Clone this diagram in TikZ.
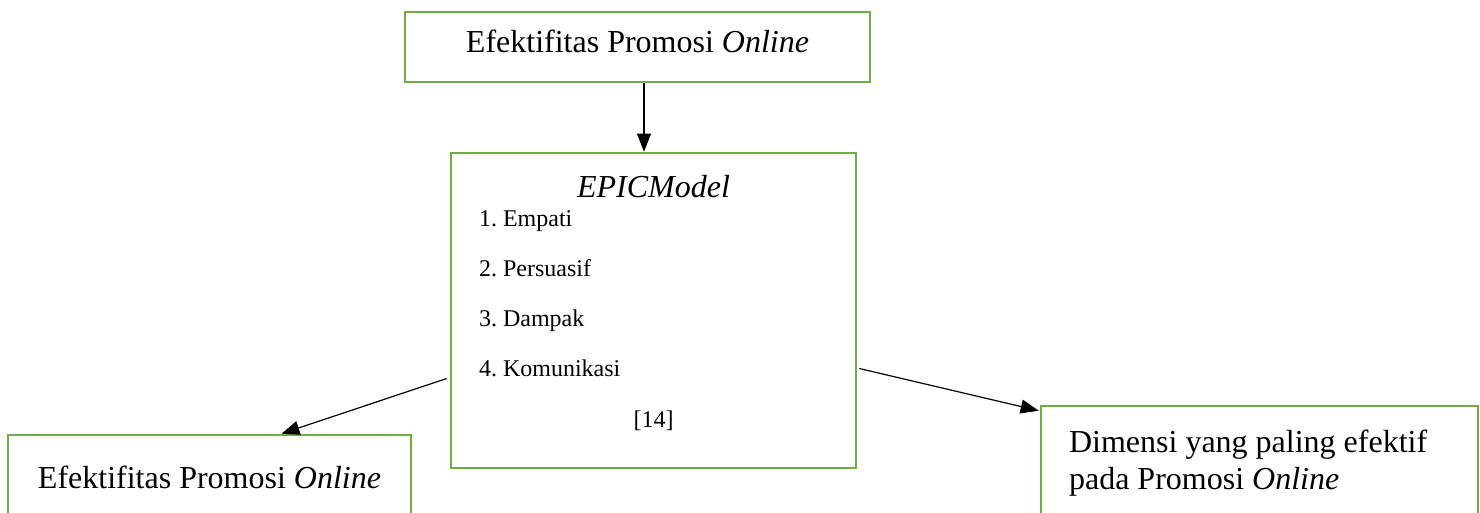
\documentclass[tikz,border=0pt]{standalone}
\usepackage{fontspec}
\setmainfont{Liberation Serif}
\usetikzlibrary{arrows.meta}
\definecolor{boxgreen}{HTML}{70AD47}
\frenchspacing

\begin{document}
\begin{tikzpicture}[x=0.5pt, y=-0.5pt,
        box/.style={draw=boxgreen, line width=1.3pt, inner sep=0pt},
        big/.style={font=\fontsize{16}{19}\selectfont},
        small/.style={font=\fontsize{12}{14}\selectfont},
        link/.style={->, line width=0.6pt},
        >={Triangle[length=9pt, width=7pt]}]
        \useasboundingbox (0,0) rectangle (1480,513);

        % the four boxes
        \node[box, minimum width=232.5pt, minimum height=35pt] (promo) at (637.5, 47) {};
        \node[box, minimum width=202.5pt, minimum height=157.5pt] (epic) at (653.5, 310.5) {};
        \node[box, minimum width=201.5pt, minimum height=52.5pt] (hasil) at (209.5, 487.5) {};
        \node[box, minimum width=218.5pt, minimum height=67pt] (dimensi) at (1259.5, 473) {};

        % texts
        \node[big, anchor=base] (promotxt) at (637.5, 53) {Efektifitas Promosi \textit{Online}};
        \node[big, anchor=base] (epictxt) at (653.5, 198) {\textit{EPICModel}};
        \node[small, anchor=base west] (e1) at (472, 227) {1. Empati};
        \node[small, anchor=base west] (e2) at (472, 277) {2. Persuasif};
        \node[small, anchor=base west] (e3) at (472, 327) {3. Dampak};
        \node[small, anchor=base west] (e4) at (472, 377) {4. Komunikasi};
        \node[small, anchor=base] (ref) at (653.5, 428) {[14]};
        \node[big, anchor=base] (hasiltxt) at (209.5, 489) {Efektifitas Promosi \textit{Online}};
        \node[big, anchor=base west] (dim1) at (1062, 453) {Dimensi yang paling efektif};
        \node[big, anchor=base west] (dim2) at (1062, 490) {pada Promosi \textit{Online}};

        % arrows
        \draw[link] ([xshift=3.25pt]promo.south) -- ([xshift=3.25pt]promo.south |- epic.north);
        \draw[link] ([xshift=-1.5pt, yshift=-34pt]epic.west) -- ([xshift=36pt]hasil.north);
        \draw[link] ([xshift=1pt, yshift=-29pt]epic.east) -- ([xshift=-0.5pt, yshift=-3pt]dimensi.north west);
\end{tikzpicture}
\end{document}
